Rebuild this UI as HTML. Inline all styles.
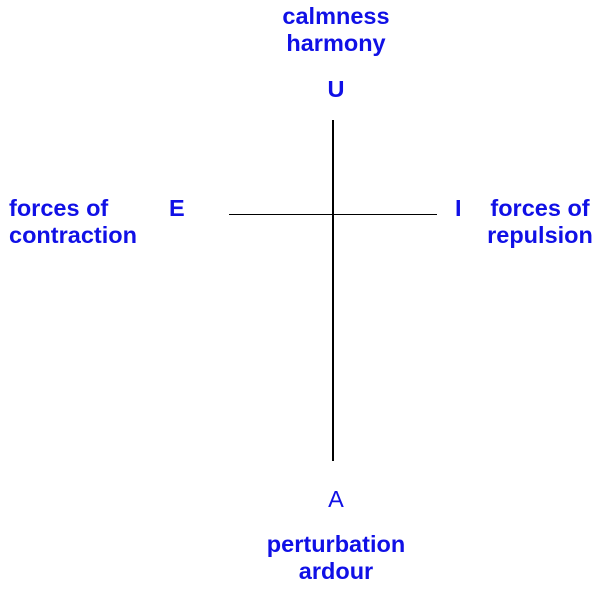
<!DOCTYPE html>
<html><head><style>
body{margin:0;width:602px;height:592px;background:#fff;position:relative;overflow:hidden}
.t{position:absolute;font-family:"Liberation Sans",Arial,sans-serif;font-size:23.5px;line-height:27px;color:#1010e6;font-weight:bold;white-space:nowrap}
.c{text-align:center;width:200px}
.l{position:absolute;background:#000}
</style></head><body>
<div class="l" style="left:332px;top:120px;width:1.5px;height:341px"></div>
<div class="l" style="left:229px;top:213.5px;width:208px;height:1.5px"></div>
<div class="t c" style="left:236px;top:3px">calmness<br>harmony</div>
<div class="t c" style="left:236px;top:76px">U</div>
<div class="t" style="left:9px;top:195px">forces of<br>contraction</div>
<div class="t" style="left:169px;top:195px">E</div>
<div class="t" style="left:455px;top:195px">I</div>
<div class="t" style="left:480px;top:195px;text-align:center;width:120px">forces of<br>repulsion</div>
<div class="t c" style="left:236px;top:486px;font-weight:normal">A</div>
<div class="t c" style="left:236px;top:531px">perturbation<br>ardour</div>
</body></html>
